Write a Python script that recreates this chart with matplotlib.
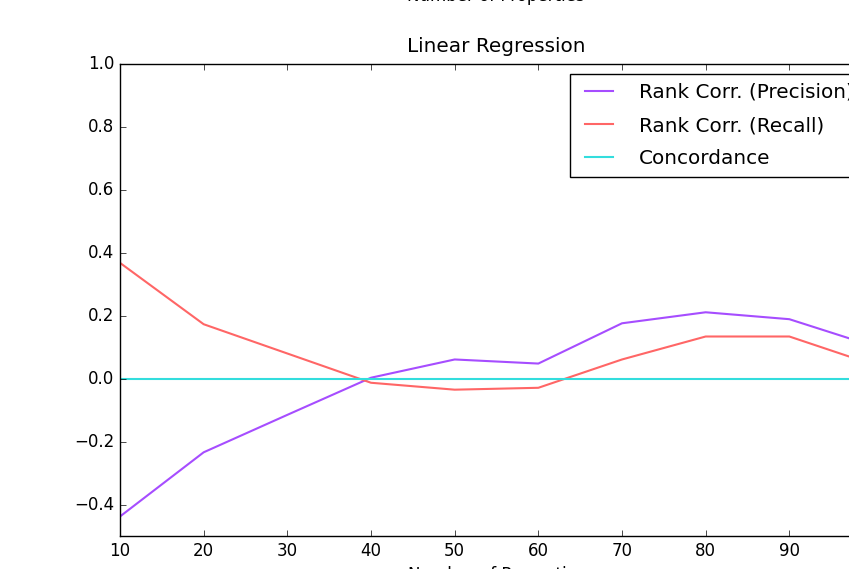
import matplotlib
matplotlib.use("Agg")
import matplotlib.pyplot as plt
import numpy as np

plt.style.use("classic")

# values
n_props = [10, 20, 30, 40, 50, 60, 70, 80, 90, 100]
rank_precision = [-0.438, -0.234, -0.115, 0.003, 0.061, 0.048, 0.176, 0.211, 0.189, 0.104]
rank_recall = [0.368, 0.173, 0.080, -0.013, -0.035, -0.029, 0.061, 0.134, 0.134, 0.045]
concordance = [0.0] * len(n_props)

fig = plt.figure(figsize=(8.49, 5.69), dpi=100, facecolor="white")

# axes runs past the right edge, like the cropped reference
ax = fig.add_axes([120 / 849, 1 - 536 / 569, (873 - 120) / 849, (536 - 64) / 569])

ax.plot(n_props, rank_precision, color="#a64dff", lw=1.5, label="Rank Corr. (Precision)")
ax.plot(n_props, rank_recall, color="#ff6666", lw=1.5, label="Rank Corr. (Recall)")
ax.plot(n_props, concordance, color="#33dddd", lw=1.5, label="Concordance")

ax.set_xlim(10, 100)
ax.set_ylim(-0.5, 1.0)
ax.set_xticks(np.arange(10, 101, 10))
ax.set_yticks(np.arange(-0.4, 1.01, 0.2))
ax.set_title("Linear Regression", pad=8.5)
ax.set_xlabel("Number of Properties")
ax.legend(loc="upper right", labelspacing=0.7, handletextpad=1.0, borderpad=0.45)

# xlabel of the plot above, mostly cut off
fig.text(496 / 849, 1 - 1 / 569, "Number of Properties", ha="center", va="baseline", fontsize=12)

fig.savefig("out.png", dpi=100, facecolor="white")
